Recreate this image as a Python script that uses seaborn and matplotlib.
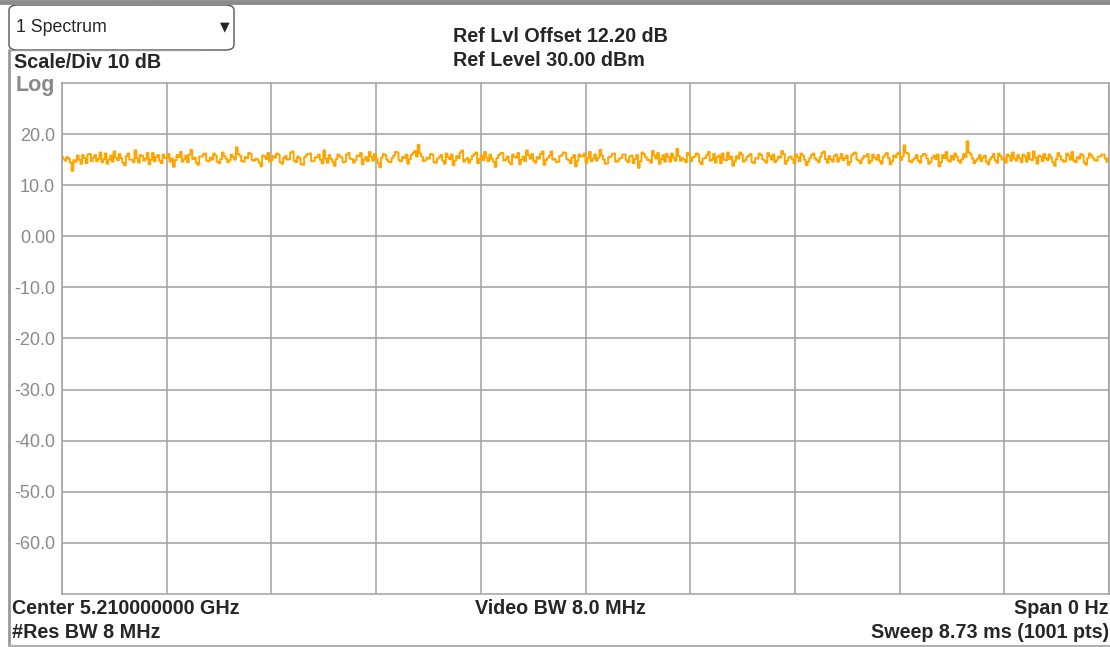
import numpy as np
import pandas as pd
import matplotlib
matplotlib.use('Agg')
import matplotlib.pyplot as plt
from matplotlib.patches import FancyBboxPatch
from matplotlib.lines import Line2D
import seaborn as sns

# trace values (dBm), left to right
level = [
    15.6, 15.1, 14.8, 15.5, 15.2, 14.4, 12.8, 14.9, 14.6, 15.8, 15.0, 14.2, 15.9, 15.3, 14.3, 16.0, 16.1, 14.7, 15.4, 15.9,
    14.7, 15.2, 16.4, 14.5, 15.1, 16.2, 14.2, 15.0, 15.8, 14.6, 16.6, 15.4, 14.9, 16.1, 15.3, 14.4, 13.9, 15.7, 16.2, 15.0,
    15.0, 14.5, 16.8, 15.3, 14.4, 15.9, 15.7, 14.8, 15.2, 16.3, 14.1, 15.0, 16.3, 14.7, 15.5, 15.9, 14.8, 14.3, 16.0, 15.4,
    15.3, 16.1, 14.6, 15.2, 13.6, 14.9, 15.9, 15.5, 16.5, 14.6, 15.1, 15.8, 14.5, 16.0, 16.9, 15.1, 15.4, 14.4, 14.0, 15.6,
    15.6, 16.0, 16.2, 14.8, 14.7, 15.4, 15.0, 16.2, 15.8, 14.6, 14.3, 15.1, 16.4, 15.7, 15.2, 14.5, 14.9, 16.0, 15.5, 15.0,
    17.4, 16.1, 15.8, 14.7, 14.6, 15.5, 15.3, 16.3, 16.1, 14.9, 14.8, 15.2, 15.0, 14.4, 13.7, 15.8, 15.6, 15.1, 16.3, 14.6,
    14.9, 15.7, 15.4, 16.2, 16.0, 14.5, 14.2, 15.3, 15.7, 15.0, 15.1, 16.4, 16.6, 14.8, 14.5, 15.6, 15.3, 14.1, 14.0, 15.5,
    15.9, 16.1, 16.2, 14.7, 14.7, 15.4, 15.5, 16.0, 15.0, 14.3, 16.8, 15.2, 14.4, 15.9, 15.2, 14.6, 13.8, 15.1, 16.0, 15.7,
    15.4, 14.5, 14.6, 16.0, 16.3, 15.2, 15.1, 14.4, 14.9, 15.8, 15.7, 16.3, 14.1, 15.0, 15.5, 14.7, 16.5, 15.6, 14.8, 16.1,
    15.2, 14.3, 13.5, 15.4, 16.1, 15.9, 15.0, 14.6, 14.5, 15.3, 15.8, 16.5, 16.4, 14.9, 14.7, 15.5, 15.3, 16.0, 14.2, 15.1,
    15.9, 16.3, 16.7, 15.6, 17.9, 16.2, 15.6, 14.7, 14.9, 15.4, 15.2, 16.1, 16.0, 14.5, 14.4, 15.2, 15.5, 15.9, 14.8, 14.2,
    16.2, 15.5, 15.1, 16.0, 13.9, 14.8, 15.7, 15.3, 16.4, 16.8, 14.6, 15.0, 15.3, 14.4, 15.0, 15.7, 16.1, 16.4, 14.3, 15.1,
    15.8, 14.9, 16.5, 15.4, 14.7, 16.0, 15.2, 14.6, 13.6, 15.3, 15.9, 16.2, 16.3, 14.8, 15.0, 15.6, 14.5, 14.1, 16.0, 15.5,
    15.4, 16.3, 14.1, 15.0, 15.6, 14.7, 16.8, 15.9, 15.2, 16.1, 14.8, 14.4, 15.5, 15.2, 16.1, 16.6, 14.0, 14.9, 15.3, 15.8,
    16.6, 15.0, 15.1, 14.5, 14.6, 15.7, 15.9, 16.4, 16.3, 15.1, 14.9, 14.3, 15.4, 15.9, 13.7, 14.8, 16.0, 15.6, 15.7, 16.2,
    14.4, 15.3, 16.5, 14.7, 15.2, 16.0, 14.8, 15.4, 16.9, 15.8, 15.0, 14.2, 14.3, 15.5, 15.6, 16.1, 16.2, 14.6, 14.7, 15.2,
    15.3, 16.0, 16.0, 14.9, 14.5, 15.6, 15.8, 14.3, 15.1, 15.9, 13.4, 14.7, 16.4, 16.1, 15.5, 15.0, 14.9, 14.4, 16.7, 15.8,
    15.2, 16.3, 14.2, 15.1, 15.9, 14.6, 16.1, 15.5, 14.6, 16.2, 15.4, 14.8, 17.1, 15.7, 14.8, 15.3, 15.0, 14.5, 16.3, 15.9,
    14.7, 15.4, 15.6, 16.2, 16.0, 14.6, 14.1, 15.2, 15.3, 15.9, 16.5, 14.8, 15.0, 16.1, 14.4, 15.5, 15.8, 14.3, 16.2, 15.0,
    14.9, 16.4, 15.1, 15.6, 13.8, 14.7, 15.7, 15.2, 16.4, 16.0, 14.6, 14.9, 15.5, 15.8, 16.1, 14.5, 14.3, 15.3, 15.2, 16.2,
    15.9, 15.1, 14.8, 14.4, 16.3, 15.7, 15.0, 16.0, 14.5, 14.9, 15.6, 15.4, 16.7, 16.1, 14.2, 14.8, 15.4, 15.6, 15.1, 14.3,
    16.0, 15.5, 14.7, 16.2, 15.8, 15.0, 13.9, 14.6, 15.3, 15.9, 16.2, 15.2, 14.9, 14.5, 15.5, 16.3, 16.6, 15.1, 14.4, 15.7,
    15.1, 14.6, 15.7, 16.0, 14.6, 15.3, 16.1, 14.9, 15.3, 15.8, 14.0, 14.5, 15.9, 16.2, 16.4, 15.0, 14.8, 14.3, 15.2, 15.7,
    15.6, 16.1, 14.3, 14.8, 16.0, 15.4, 15.0, 15.9, 14.7, 14.2, 15.5, 16.0, 16.3, 15.3, 14.1, 14.7, 15.8, 15.5, 16.1, 16.4,
    14.9, 15.6, 17.8, 16.3, 16.2, 14.7, 14.5, 15.0, 15.3, 15.9, 14.8, 14.4, 15.7, 16.1, 16.0, 15.2, 14.2, 14.6, 15.4, 15.8,
    15.1, 16.0, 13.7, 14.5, 15.9, 15.3, 16.5, 14.9, 14.6, 15.7, 15.0, 16.2, 15.6, 14.8, 14.4, 15.1, 16.1, 15.5, 18.6, 16.4,
    16.0, 15.2, 14.3, 14.8, 15.2, 15.9, 14.7, 15.4, 15.8, 14.6, 14.1, 15.0, 15.5, 16.1, 14.9, 14.4, 16.2, 15.7, 15.0, 15.3,
    14.4, 16.0, 15.7, 14.8, 16.4, 15.2, 14.8, 15.9, 15.3, 14.5, 16.0, 15.6, 14.6, 16.3, 15.1, 14.9, 16.6, 15.4, 14.2, 15.8,
    15.6, 14.7, 16.1, 15.3, 14.9, 16.0, 15.4, 14.5, 13.8, 15.1, 16.3, 15.7, 15.0, 14.6, 14.7, 16.2, 15.8, 15.0, 16.5, 14.8,
    14.5, 15.5, 15.2, 16.1, 15.9, 14.4, 14.0, 15.3, 16.2, 15.8, 15.3, 14.9, 14.8, 15.6, 15.6, 16.0, 16.0, 15.2, 14.6, 15.4,
]
sweep_ms = 8.73
ref_level = 30.0
scale_div = 10
y_ticks = [20, 10, 0, -10, -20, -30, -40, -50, -60]
y_labels = ['20.0', '10.0', '0.00', '-10.0', '-20.0', '-30.0', '-40.0', '-50.0', '-60.0']

df = pd.DataFrame({'t': np.linspace(0, sweep_ms, len(level)), 'dBm': level})

sns.set_style('white')
plt.rcParams['font.family'] = ['Liberation Sans', 'DejaVu Sans']

fig = plt.figure(figsize=(11.1, 6.47), dpi=100)
W, H = 1110, 647
ax = fig.add_axes([62 / W, 1 - 594 / H, 1047 / W, 511 / H])

sns.lineplot(data=df, x='t', y='dBm', ax=ax, color='#FFA500', lw=1.4,
             drawstyle='steps-mid')

ax.set_xlim(0, sweep_ms)
ax.set_ylim(ref_level - 10 * scale_div, ref_level)
ax.set_xticks(np.linspace(0, sweep_ms, 11))
ax.set_xticklabels([])
ax.set_yticks(y_ticks)
ax.set_yticklabels(y_labels)
ax.tick_params(axis='both', length=0, pad=5, labelsize=13, labelcolor='#8a8a8a')
ax.set_xlabel('')
ax.set_ylabel('')
ax.grid(True, color='#a0a0a0', lw=1.1)
for s in ax.spines.values():
    s.set_color('#a0a0a0')
    s.set_linewidth(1.1)

# instrument chrome
fig.add_artist(Line2D([0, 1], [1 - 2 / H, 1 - 2 / H], color='#8c8c8c', lw=3.5))
for xp in [152, 315, 475, 640, 797, 995]:
    fig.add_artist(Line2D([xp / W, xp / W], [1 - 4 / H, 1], color='#8c8c8c', lw=1))
fig.add_artist(Line2D([8.5 / W, 8.5 / W], [0, 1 - 50 / H], color='#9a9a9a', lw=2))
fig.add_artist(Line2D([9 / W, 1], [1.5 / H, 1.5 / H], color='#b0b0b0', lw=1.5))
box = FancyBboxPatch((9 / W, 1 - 50 / H), 225 / W, 45 / H,
                     boxstyle='round,pad=0,rounding_size=0.008',
                     transform=fig.transFigure, fc='white', ec='#555555', lw=1)
fig.add_artist(box)
fig.add_artist(Line2D([9 / W, 200 / W], [1 - 50 / H, 1 - 50 / H], color='#9a9a9a', lw=1))
fig.text(16 / W, 1 - 27 / H, '1 Spectrum', fontsize=12.8, va='center')
fig.text(225 / W, 1 - 27 / H, '\u25bc', fontsize=9, va='center', ha='center',
         family=['DejaVu Sans'])

bold = dict(fontsize=14.2, fontweight='bold', va='center')
fig.text(14 / W, 1 - 62 / H, 'Scale/Div 10 dB', **bold)
fig.text(16 / W, 1 - 85 / H, 'Log', fontsize=15.5, fontweight='bold', color='#8a8a8a', va='center')
fig.text(453 / W, 1 - 37 / H, 'Ref Lvl Offset 12.20 dB', **bold)
fig.text(453 / W, 1 - 61 / H, 'Ref Level 30.00 dBm', **bold)
fig.text(12 / W, 1 - 608 / H, 'Center 5.210000000 GHz', **bold)
fig.text(12 / W, 1 - 633 / H, '#Res BW 8 MHz', **bold)
fig.text(475 / W, 1 - 608 / H, 'Video BW 8.0 MHz', **bold)
fig.text(1109 / W, 1 - 608 / H, 'Span 0 Hz', ha='right', **bold)
fig.text(1109 / W, 1 - 633 / H, 'Sweep 8.73 ms (1001 pts)', ha='right', **bold)

fig.savefig('out.png', dpi=100)
